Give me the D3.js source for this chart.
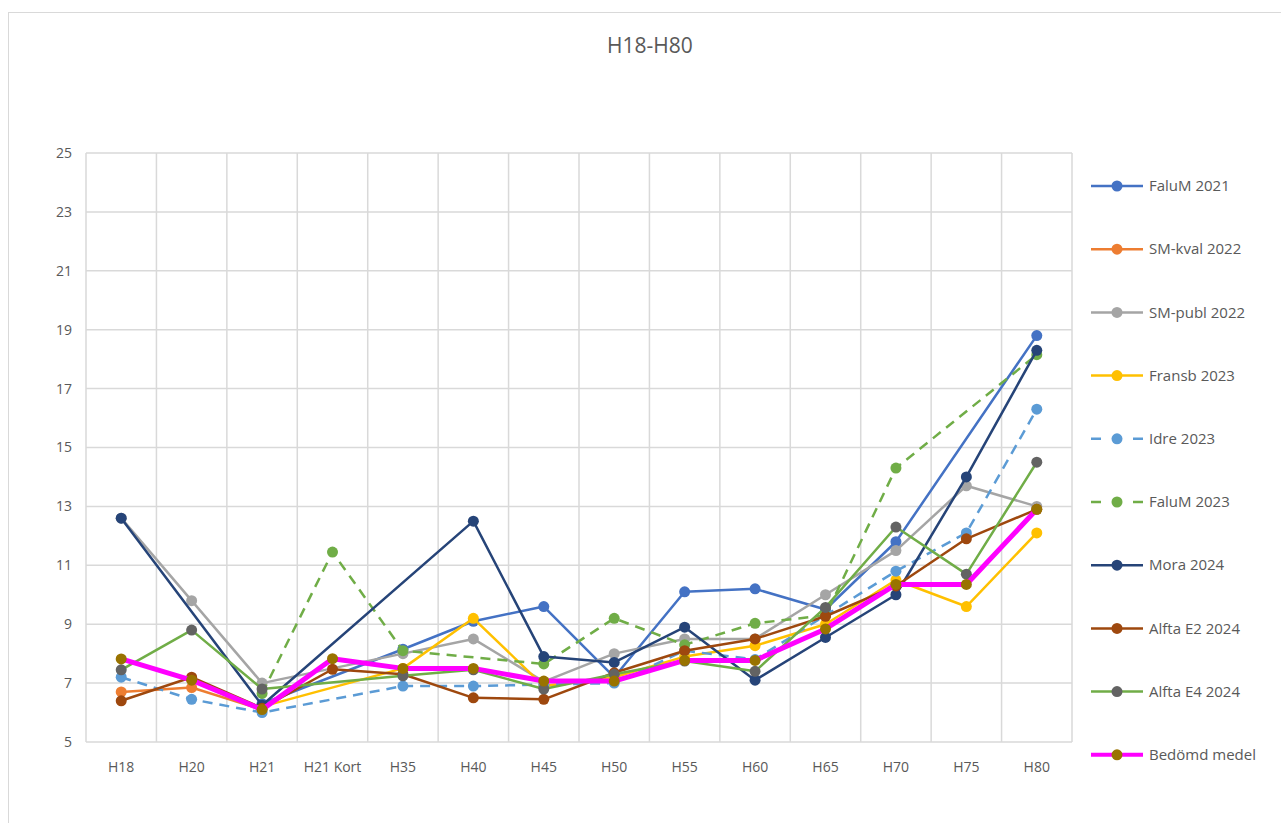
<!DOCTYPE html>
<html>
<head>
<meta charset="utf-8">
<script src="https://cdn.jsdelivr.net/npm/d3@7"></script>
<style>
  body { margin: 0; background: #fff; }
  text { font-family: "Open Sans", "Noto Sans", sans-serif; fill: #595959; }
</style>
</head>
<body>
<script>
//categories and values (null = no point)
var categories = ["H18", "H20", "H21", "H21 Kort", "H35", "H40", "H45", "H50", "H55", "H60", "H65", "H70", "H75", "H80"];
var yTicks = [5, 7, 9, 11, 13, 15, 17, 19, 21, 23, 25];

var faluM2021  = [null, null, 6.3, null, 8.15, 9.1, 9.6, 7.2, 10.1, 10.2, 9.5, 11.8, null, 18.8];
var smKval2022 = [6.7, 6.85, 6.1, null, null, null, null, null, null, null, null, null, null, null];
var smPubl2022 = [12.6, 9.8, 7.0, null, 8.0, 8.5, 7.05, 8.0, 8.5, 8.5, 10.0, 11.5, 13.7, 13.0];
var fransb2023 = [null, null, 6.2, null, 7.5, 9.2, 6.9, 7.2, 7.9, 8.27, 9.0, 10.5, 9.6, 12.1];
var idre2023   = [7.2, 6.45, 6.0, null, 6.9, 6.9, 6.95, 7.0, 8.1, 7.8, 9.3, 10.8, 12.1, 16.3];
var faluM2023  = [null, null, 6.65, 11.45, 8.1, null, 7.65, 9.2, 8.3, 9.03, 9.3, 14.3, null, 18.15];
var mora2024   = [12.6, null, 6.25, null, null, 12.5, 7.9, 7.7, 8.9, 7.1, 8.55, 10.0, 14.0, 18.3];
var alftaE2    = [6.4, 7.2, 6.15, 7.47, 7.3, 6.5, 6.45, 7.35, 8.1, 8.5, 9.27, 10.3, 11.9, 12.9];
var alftaE4    = [7.45, 8.8, 6.8, null, 7.25, 7.45, 6.8, 7.3, 7.75, 7.4, 9.57, 12.3, 10.7, 14.5];
var bedomd     = [7.82, 7.1, 6.1, 7.83, 7.5, 7.5, 7.07, 7.07, 7.77, 7.77, 8.84, 10.35, 10.35, 12.9];

var series = [
  {name: "FaluM 2021",    values: faluM2021,  line: "#4472C4", marker: "#4472C4", width: 2.5, dash: null},
  {name: "SM-kval 2022",  values: smKval2022, line: "#ED7D31", marker: "#ED7D31", width: 2.5, dash: null},
  {name: "SM-publ 2022",  values: smPubl2022, line: "#A5A5A5", marker: "#A5A5A5", width: 2.5, dash: null},
  {name: "Fransb 2023",   values: fransb2023, line: "#FFC000", marker: "#FFC000", width: 2.5, dash: null},
  {name: "Idre 2023",     values: idre2023,   line: "#5B9BD5", marker: "#5B9BD5", width: 2.5, dash: "10,7"},
  {name: "FaluM 2023",    values: faluM2023,  line: "#70AD47", marker: "#70AD47", width: 2.5, dash: "10,7"},
  {name: "Mora 2024",     values: mora2024,   line: "#264478", marker: "#264478", width: 2.5, dash: null},
  {name: "Alfta E2 2024", values: alftaE2,    line: "#9E480E", marker: "#9E480E", width: 2.5, dash: null},
  {name: "Alfta E4 2024", values: alftaE4,    line: "#70AD47", marker: "#636363", width: 2.5, dash: null},
  {name: "Bedömd medel",  values: bedomd,     line: "#FF00FF", marker: "#997300", width: 5,   dash: null}
];

var W = 1281, H = 823;
var plot = {left: 86, right: 1072, top: 153, bottom: 742};

var svg = d3.select("body").append("svg")
    .attr("width", W)
    .attr("height", H);

//chart frame
svg.append("rect")
    .attr("x", 8.5).attr("y", 12.5)
    .attr("width", W).attr("height", H)
    .attr("fill", "#fff")
    .attr("stroke", "#d9d9d9");

//title
svg.append("text")
    .attr("x", 650).attr("y", 53)
    .attr("text-anchor", "middle")
    .style("font-size", "21px")
    .text("H18-H80");

var x = d3.scaleBand()
    .domain(categories)
    .range([plot.left, plot.right]);

var y = d3.scaleLinear()
    .domain([5, 25])
    .range([plot.bottom, plot.top]);

//horizontal gridlines
svg.append("g")
    .selectAll("line")
    .data(yTicks.slice(1))
    .enter().append("line")
    .attr("x1", plot.left).attr("x2", plot.right)
    .attr("y1", d => y(d)).attr("y2", d => y(d))
    .attr("stroke", "#d9d9d9")
    .attr("stroke-width", 1.5);

//vertical gridlines at category boundaries
svg.append("g")
    .selectAll("line")
    .data(categories)
    .enter().append("line")
    .attr("x1", d => x(d) + x.bandwidth()).attr("x2", d => x(d) + x.bandwidth())
    .attr("y1", plot.top).attr("y2", plot.bottom)
    .attr("stroke", "#d9d9d9")
    .attr("stroke-width", 1.5);

//axes lines
svg.append("line")
    .attr("x1", plot.left).attr("x2", plot.left)
    .attr("y1", plot.top).attr("y2", plot.bottom)
    .attr("stroke", "#d9d9d9").attr("stroke-width", 1.5);
svg.append("line")
    .attr("x1", plot.left).attr("x2", plot.right)
    .attr("y1", plot.bottom).attr("y2", plot.bottom)
    .attr("stroke", "#d9d9d9").attr("stroke-width", 1.5);

//y tick labels
svg.append("g")
    .selectAll("text")
    .data(yTicks)
    .enter().append("text")
    .attr("x", 72)
    .attr("y", d => y(d))
    .attr("dy", "0.35em")
    .attr("text-anchor", "end")
    .style("font-size", "14px")
    .text(d => d);

//x tick labels
svg.append("g")
    .selectAll("text")
    .data(categories)
    .enter().append("text")
    .attr("x", d => x(d) + x.bandwidth() / 2)
    .attr("y", 772)
    .attr("text-anchor", "middle")
    .style("font-size", "14px")
    .text(d => d);

var line = d3.line()
    .x(d => x(d.cat) + x.bandwidth() / 2)
    .y(d => y(d.v));

series.forEach(function(s) {
    var pts = s.values
        .map((v, i) => ({cat: categories[i], v: v}))
        .filter(d => d.v !== null);
    var g = svg.append("g");
    g.append("path")
        .datum(pts)
        .attr("d", line)
        .attr("fill", "none")
        .attr("stroke", s.line)
        .attr("stroke-width", s.width)
        .attr("stroke-dasharray", s.dash)
        .attr("stroke-linejoin", "round");
    g.selectAll("circle")
        .data(pts)
        .enter().append("circle")
        .attr("cx", d => x(d.cat) + x.bandwidth() / 2)
        .attr("cy", d => y(d.v))
        .attr("r", 5.5)
        .attr("fill", s.marker);
});

//legend
var legend = svg.append("g")
    .selectAll("g")
    .data(series)
    .enter().append("g")
    .attr("transform", (d, i) => "translate(1091," + (186 + i * 63.2) + ")");

legend.append("line")
    .attr("x1", 0).attr("x2", 52)
    .attr("stroke", d => d.line)
    .attr("stroke-width", d => d.width === 5 ? 4 : 2.5)
    .attr("stroke-dasharray", d => d.dash ? "10,32,10" : null);

legend.append("circle")
    .attr("cx", 26)
    .attr("r", 5.5)
    .attr("fill", d => d.marker);

legend.append("text")
    .attr("x", 58)
    .attr("dy", "0.35em")
    .style("font-size", "15px")
    .text(d => d.name);
</script>
</body>
</html>
